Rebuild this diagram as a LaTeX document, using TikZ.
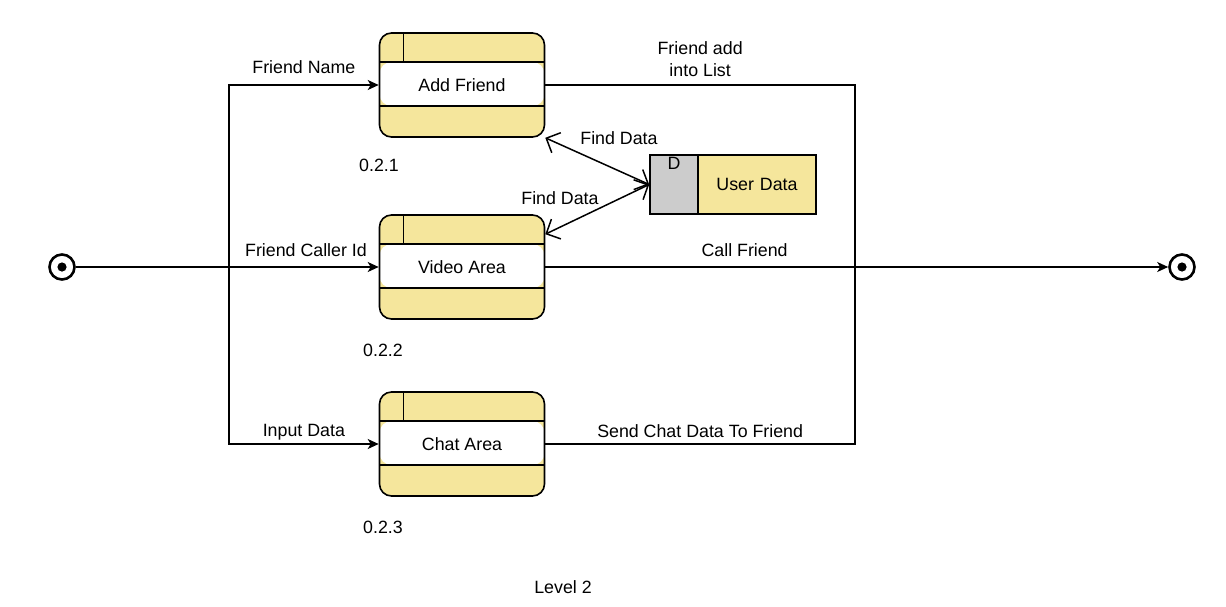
\documentclass[tikz,border=0pt]{standalone}
\usepackage{fontspec}
\setmainfont{Liberation Sans}
\usetikzlibrary{shapes.geometric, arrows, arrows.meta, positioning}

\definecolor{procyellow}{RGB}{245,230,156}
\definecolor{storegray}{RGB}{204,204,204}

\begin{document}
\begin{tikzpicture}[
    x = 1pt, y = -1pt,
    font = \fontsize{17.8}{21.5}\selectfont,
    process/.style = {rectangle, draw, line width=1.6pt, rounded corners=12pt, fill=procyellow,
        minimum width=165pt, minimum height=104pt, inner sep=0pt,
        path picture={
            \fill[white] ([yshift=-29pt]path picture bounding box.north west) rectangle ([yshift=31pt]path picture bounding box.south east);
            \draw[line width=1.6pt] ([yshift=-29pt]path picture bounding box.north west) -- ([yshift=-29pt]path picture bounding box.north east);
            \draw[line width=1.6pt] ([yshift=31pt]path picture bounding box.south west) -- ([yshift=31pt]path picture bounding box.south east);
            \draw[line width=1.6pt] ([xshift=24pt]path picture bounding box.north west) -- ([xshift=24pt,yshift=-29pt]path picture bounding box.north west);
        }},
    store/.style = {rectangle, draw, line width=1.6pt, fill=procyellow, minimum width=166pt, minimum height=59pt,
        inner sep=0pt, text width=164pt, align=center,
        path picture={
            \fill[storegray] (path picture bounding box.north west) rectangle ([xshift=48pt]path picture bounding box.south west);
            \draw[line width=1.6pt] ([xshift=48pt]path picture bounding box.north west) -- ([xshift=48pt]path picture bounding box.south west);
        }},
    terminal/.style = {circle, draw, line width=2.6pt, minimum size=25pt, inner sep=0pt,
        path picture={\fill (path picture bounding box.center) circle (4.6pt);}},
    label/.style = {inner sep=1pt, align=center},
    flow/.style = {->, >={Stealth[length=11pt, width=10pt, inset=3pt]}, line width=1.5pt},
    line/.style = {line width=1.5pt},
    lookup/.style = {<->, >={Straight Barb[length=11pt, width=22pt]}, line width=1.5pt}
]
\useasboundingbox (0,0) rectangle (1226,606);

% Define nodes
\node[process] (addfriend) at (462,85) {Add Friend};
\node[process] (videoarea) at (462,267) {Video Area};
\node[process] (chatarea) at (462,444) {Chat Area};
\node[store] (userdata) at (733,184.5) {\hspace*{48pt}User Data};
\node[label] (dmark) at (674,163) {D};
\node[terminal] (startpt) at (62,267) {};
\node[terminal] (endpt) at (1182,267) {};

\coordinate (split) at (229,267);
\coordinate (merge) at (855,267);

% Draw arrows
\draw[flow] (startpt) -- node[label, above=9pt, pos=0.76] {Friend Caller Id} (videoarea);
\draw[flow] (split) |- node[label, above=10pt, pos=0.75] {Friend Name} (addfriend);
\draw[flow] (split) |- node[label, above=2pt, pos=0.75] {Input Data} (chatarea);
\draw[line] (addfriend) -| node[label, above=7pt, pos=0.25] {Friend add\\into List} (merge);
\draw[line] (chatarea) -| node[label, above=5pt, pos=0.25] {Send Chat Data To Friend} (merge);
\draw[flow] (videoarea) -- node[label, above=9pt, pos=0.32] {Call Friend} (endpt);
\draw[lookup] (addfriend.south east) -- (userdata.west);
\draw[lookup] ([yshift=-20pt]videoarea.north east) -- (userdata.west);

% Labels
\node[label] (find1) at (619,138) {Find Data};
\node[label] (find2) at (560,198) {Find Data};
\node[label] (num1) at (379,165) {0.2.1};
\node[label] (num2) at (383,350) {0.2.2};
\node[label] (num3) at (383,527) {0.2.3};
\node[label] (level) at (563,587) {Level 2};

\end{tikzpicture}
\end{document}
